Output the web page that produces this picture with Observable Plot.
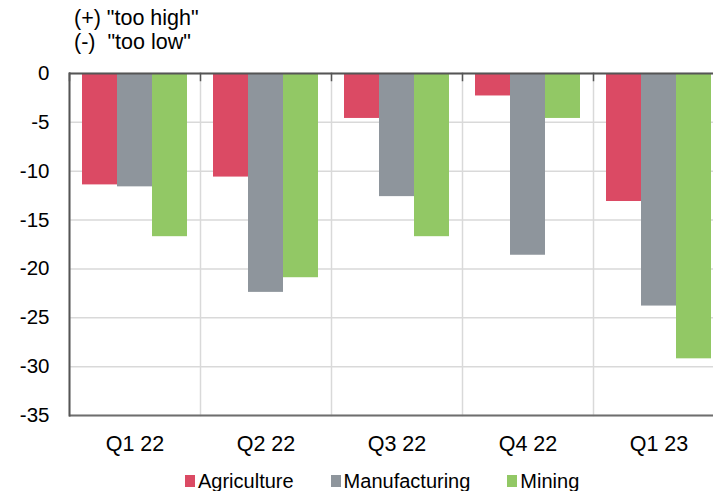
<!DOCTYPE html>
<html>
<head>
<meta charset="utf-8">
<script src="https://cdn.jsdelivr.net/npm/d3@7"></script>
<script src="https://cdn.jsdelivr.net/npm/@observablehq/plot@0.6"></script>
<style>
html, body { margin: 0; padding: 0; background: #fff; overflow: hidden; width: 713px; height: 491px; }
body { position: relative; font-family: "Liberation Sans", Arial, sans-serif; color: #000; }
#title { position: absolute; left: 74px; top: 6px; font-size: 21.5px; line-height: 24px; white-space: pre; z-index: 2; }
#chart { position: absolute; left: 0; top: 0; }
#legend { position: absolute; left: 185px; top: 470px; display: flex; font-size: 20px; line-height: 22px; z-index: 2; }
.item { display: flex; align-items: center; margin-right: 37px; }
.sw { width: 10px; height: 12px; margin-right: 3px; }
</style>
</head>
<body>
<div id="title">(+) "too high"
(-)  "too low"</div>
<div id="chart"></div>
<div id="legend"></div>
<script>
const quarters = ["Q1 22", "Q2 22", "Q3 22", "Q4 22", "Q1 23"];
const sectors = ["Agriculture", "Manufacturing", "Mining"];
const agriculture = [-11.4, -10.6, -4.6, -2.3, -13.1];
const manufacturing = [-11.6, -22.4, -12.6, -18.6, -23.8];
const mining = [-16.7, -20.9, -16.7, -4.6, -29.2];
const colors = ["#DB4A64", "#8E959C", "#92C865"];
const yTicks = [0, -5, -10, -15, -20, -25, -30, -35];

const series = [agriculture, manufacturing, mining];
const data = [];
quarters.forEach((q, i) => sectors.forEach((s, j) => data.push({quarter: q, sector: s, value: series[j][i]})));

const plot = Plot.plot({
  width: 725,
  height: 460,
  marginLeft: 67,
  marginRight: 0,
  marginTop: 73,
  marginBottom: 45,
  style: {fontFamily: '"Liberation Sans", Arial, sans-serif', fontSize: "20px", color: "#000", maxWidth: "none", background: "transparent"},
  fx: {domain: quarters, padding: 0, label: null},
  x: {domain: sectors, paddingInner: 0, paddingOuter: 0.36, axis: null},
  y: {domain: [-35, 0], ticks: yTicks, label: null},
  color: {domain: sectors, range: colors},
  marks: [
    Plot.gridY(yTicks, {stroke: "#d9d9d9", strokeOpacity: 1, strokeWidth: 1.5}),
    Plot.frame({anchor: "left", stroke: "#d9d9d9", strokeWidth: 1.5}),
    Plot.barY(data, {fx: "quarter", x: "sector", y: "value", fill: "sector"}),
    Plot.ruleY([-35], {stroke: "#6e6e6e", strokeWidth: 2}),
    Plot.ruleY([0], {stroke: "#555", strokeWidth: 2}),
    Plot.frame({anchor: "left", stroke: "#555", strokeWidth: 1.5, insetBottom: 335}),
    Plot.frame({anchor: "left", stroke: "#555", strokeWidth: 2, facet: "super"}),
    Plot.axisY(yTicks, {tickSize: 0, tickPadding: 20, fontSize: 20.5, label: null, tickFormat: d => d === 0 ? "0" : "-" + Math.abs(d)}),
    Plot.axisFx({anchor: "bottom", tickSize: 0, tickPadding: 20, fontSize: 21.5, label: null})
  ]
});
document.getElementById("chart").appendChild(plot);

const legend = document.getElementById("legend");
sectors.forEach((s, j) => {
  const item = document.createElement("div");
  item.className = "item";
  const sw = document.createElement("div");
  sw.className = "sw";
  sw.style.background = colors[j];
  const t = document.createElement("span");
  t.textContent = s;
  item.appendChild(sw);
  item.appendChild(t);
  legend.appendChild(item);
});
</script>
</body>
</html>
